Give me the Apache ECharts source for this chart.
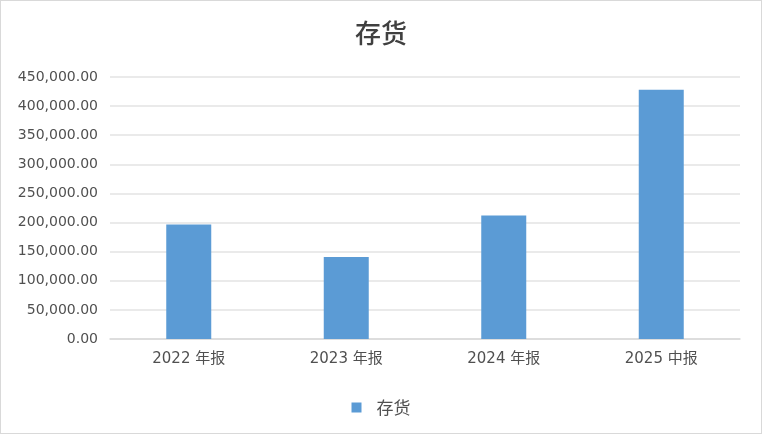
<!DOCTYPE html>
<html><head><meta charset="utf-8">
<script src="https://cdn.jsdelivr.net/npm/echarts@6/dist/echarts.min.js"></script>
<style>html,body{margin:0;padding:0;background:#fff}#c{width:762px;height:434px;box-sizing:border-box;border:1px solid #d9d9d9}</style>
</head><body><div id="c"></div>
<script>
var categories = ['2022 年报', '2023 年报', '2024 年报', '2025 中报'];
var seriesName = '存货';
var values = [196500, 140900, 212000, 427900];
var FONT = "'DejaVu Sans', 'Noto Sans CJK SC', sans-serif";
var chart = echarts.init(document.getElementById('c'));
chart.setOption({
  animation: false,
  title: {text: '存货', left: 'center', top: 14, textStyle: {fontSize: 26, fontWeight: 500, color: '#404040', fontFamily: 'Noto Sans CJK SC'}},
  grid: {left: 109, right: 21, top: 76, bottom: 94, containLabel: false},
  legend: {top: 393, left: 'center', itemWidth: 10, itemHeight: 10, icon: 'rect', itemGap: 10,
    textStyle: {fontSize: 17, color: '#505050', fontFamily: 'Noto Sans CJK SC', padding: [0, 0, 0, 10]}},
  xAxis: {type: 'category', data: categories,
    axisLine: {lineStyle: {color: '#d9d9d9', width: 1.5}}, axisTick: {show: false},
    axisLabel: {fontSize: 15, color: '#505050', margin: 13, fontFamily: FONT}},
  yAxis: {type: 'value', min: 0, max: 450000, interval: 50000,
    axisLine: {show: false}, axisTick: {show: false},
    splitLine: {lineStyle: {color: '#e3e3e3', width: 1.5}},
    axisLabel: {fontSize: 14, color: '#505050', margin: 12, fontFamily: FONT,
      formatter: function(v){return v.toLocaleString('en-US',{minimumFractionDigits:2,maximumFractionDigits:2});}}},
  series: [{name: seriesName, type: 'bar', data: values, barWidth: 45, itemStyle: {color: '#5b9bd5'}}]
});
</script></body></html>
